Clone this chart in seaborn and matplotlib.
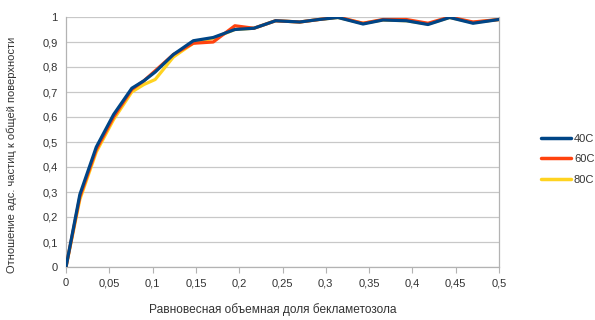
import numpy as np
import pandas as pd
import matplotlib
matplotlib.use("Agg")
import matplotlib.pyplot as plt
import seaborn as sns

x_vals = [0, 0.016, 0.035, 0.055, 0.076, 0.09, 0.103, 0.124, 0.147, 0.17, 0.195,
          0.217, 0.242, 0.27, 0.292, 0.314, 0.343, 0.366, 0.393, 0.418, 0.443, 0.47, 0.5]
y_40 = [0, 0.29, 0.48, 0.61, 0.715, 0.745, 0.78, 0.85, 0.905, 0.918, 0.95,
        0.955, 0.985, 0.98, 0.99, 0.998, 0.972, 0.988, 0.985, 0.97, 0.998, 0.975, 0.99]
y_60 = [0, 0.28, 0.47, 0.60, 0.71, 0.745, 0.785, 0.85, 0.895, 0.90, 0.965,
        0.955, 0.985, 0.98, 0.99, 1.0, 0.975, 0.99, 0.99, 0.975, 1.0, 0.98, 0.99]
y_80 = [0, 0.27, 0.46, 0.59, 0.70, 0.73, 0.75, 0.84, 0.895, 0.915, 0.95,
        0.955, 0.985, 0.98, 0.99, 0.998, 0.975, 0.988, 0.985, 0.972, 0.998, 0.978, 0.99]
series_names = ["40C", "60C", "80C"]
colors = ["#004586", "#ff420e", "#ffd320"]

rows = []
for name, ys in zip(series_names, [y_40, y_60, y_80]):
    for xv, yv in zip(x_vals, ys):
        rows.append({"x": xv, "y": yv, "series": name})
df = pd.DataFrame(rows)

sns.set_theme(style="white")
plt.rcParams["font.family"] = ["Liberation Sans", "DejaVu Sans"]

W, H = 595, 320
fig = plt.figure(figsize=(W / 100, H / 100), dpi=100)
ax = fig.add_axes([66 / W, 1 - 267 / H, (499 - 66) / W, (267 - 17) / H])

# draw in reverse order so blue is on top
for name, col in reversed(list(zip(series_names, colors))):
    sns.lineplot(data=df[df.series == name], x="x", y="y", color=col, lw=2.3,
                 ax=ax, label=name, legend=False, zorder=3)

ax.set_xlim(0, 0.5)
ax.set_ylim(0, 1)
xt = np.round(np.arange(0, 0.5001, 0.05), 2)
yt = np.round(np.arange(0, 1.0001, 0.1), 1)
ax.set_xticks(xt)
ax.set_yticks(yt)
fmt = lambda v: ("%g" % v).replace(".", ",")
ax.set_xticklabels([fmt(v) for v in xt], fontsize=8, color="#333333")
ax.set_yticklabels([fmt(v) for v in yt], fontsize=8, color="#333333")
ax.yaxis.grid(True, color="#c8c8c8", lw=0.9)
ax.xaxis.grid(False)
for s in ["left", "bottom", "right"]:
    ax.spines[s].set_color("#b3b3b3")
    ax.spines[s].set_linewidth(0.9)
ax.spines["top"].set_visible(False)
ax.tick_params(axis="x", direction="out", length=4, color="#b3b3b3", width=0.8, pad=4, bottom=True)
ax.tick_params(axis="y", direction="out", length=0, pad=6, left=True)
ax.set_xlabel("")
ax.set_ylabel("")

fig.text(273 / W, 1 - 310 / H, "Равновесная объемная доля бекламетозола",
         ha="center", va="center", fontsize=8.6, color="#333333")
fig.text(12 / W, 1 - 155 / H, "Отношение адс. частиц к общей поверхности",
         ha="center", va="center", rotation=90, fontsize=8, color="#333333")

handles = [plt.Line2D([], [], color=c, lw=2.5) for c in colors]
fig.legend(handles, series_names, loc="upper left",
           bbox_to_anchor=(535 / W, 1 - 128 / H), frameon=False, fontsize=8,
           handlelength=2.7, labelspacing=0.97, handletextpad=0.3, borderpad=0,
           labelcolor="#333333")

fig.savefig("out.png", dpi=100)
